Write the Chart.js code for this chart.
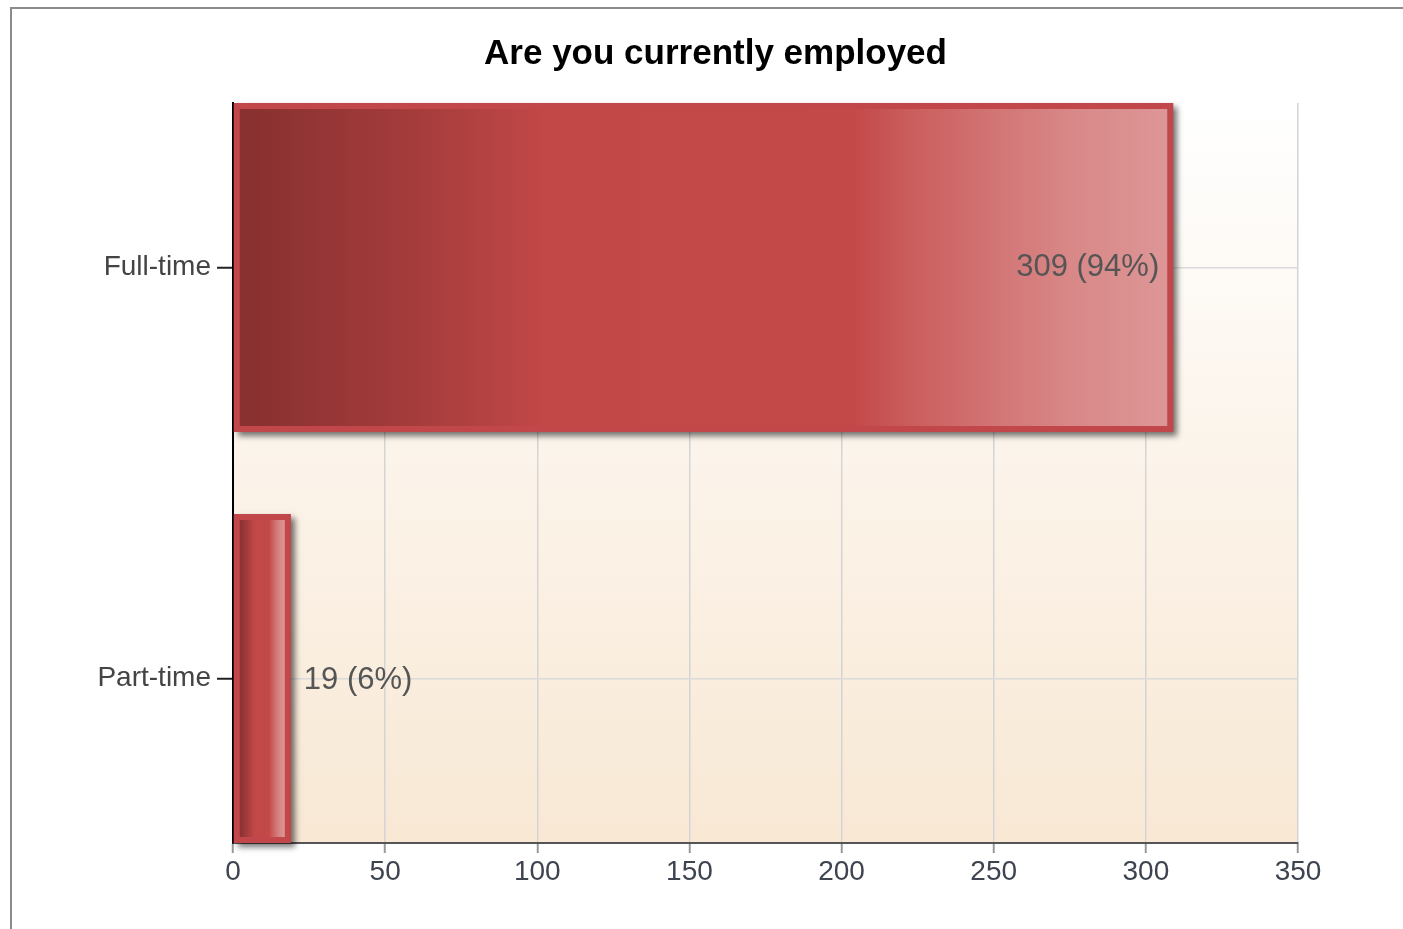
<!DOCTYPE html>
<html>
<head>
<meta charset="utf-8">
<title>Are you currently employed</title>
<script src="https://cdn.jsdelivr.net/npm/chart.js@4.4.1/dist/chart.umd.min.js"></script>
<style>
    html, body { margin: 0; padding: 0; background: #fff; overflow: hidden; }
    #frame { position: absolute; left: 10px; top: 7px; width: 1420px; height: 960px; border: 2px solid #8b8b8b; }
    #wrap { position: absolute; left: 0; top: 0; width: 1403px; height: 929px; }
</style>
</head>
<body>
<div id="frame"></div>
<div id="wrap"><canvas id="chart"></canvas></div>
<script>
const categories = ['Full-time', 'Part-time'];
const counts = [309, 19];
const percents = [94, 6];
const xMin = 0, xMax = 350, xStep = 50;

const FONT = '"Liberation Sans", Arial, sans-serif';
const BORDER = 6;
const BORDER_COLOR = '#c1474a';

// horizontal shading used inside each bar, dark on the left, pale on the right
const shade = [
    [0, '#87302f'], [0.1, '#973636'], [0.2, '#a73d3d'], [0.33, '#c24747'],
    [0.66, '#c34848'], [0.72, '#ca5c5c'], [0.82, '#d37676'], [0.9, '#d98888'], [1, '#dd9696']
];

function barFill(context) {
    if (context.type !== 'data' || !context.parsed) return '#c34848';
    const xs = context.chart.scales.x;
    const x0 = xs.getPixelForValue(0) + BORDER;
    const x1 = xs.getPixelForValue(context.parsed.x) - BORDER;
    if (!isFinite(x0) || !isFinite(x1) || x1 <= x0) return '#c34848';
    const g = context.chart.ctx.createLinearGradient(x0, 0, x1, 0);
    shade.forEach(([p, c]) => g.addColorStop(p, c));
    return g;
}

const plotBackground = {
    id: 'plotBackground',
    beforeDraw(chart) {
        const { ctx, chartArea: a } = chart;
        const g = ctx.createLinearGradient(0, a.top, 0, a.bottom);
        g.addColorStop(0, '#ffffff');
        g.addColorStop(1, '#f8e8d4');
        ctx.save();
        ctx.fillStyle = g;
        ctx.fillRect(a.left, a.top, a.width, a.height);
        ctx.restore();
    }
};

const barShadow = {
    id: 'barShadow',
    beforeDatasetsDraw(chart) {
        const ctx = chart.ctx;
        chart.getDatasetMeta(0).data.forEach(bar => {
            const { x, y, base, height } = bar.getProps(['x', 'y', 'base', 'height'], true);
            ctx.save();
            ctx.shadowColor = 'rgba(0,0,0,0.55)';
            ctx.shadowBlur = 6;
            ctx.shadowOffsetX = 4;
            ctx.shadowOffsetY = 4;
            ctx.fillStyle = BORDER_COLOR;
            ctx.fillRect(base, y - height / 2, x - base, height);
            ctx.restore();
        });
    }
};

const valueLabels = {
    id: 'valueLabels',
    afterDatasetsDraw(chart) {
        const ctx = chart.ctx;
        ctx.save();
        ctx.font = `31px ${FONT}`;
        ctx.fillStyle = '#555555';
        ctx.textBaseline = 'middle';
        chart.getDatasetMeta(0).data.forEach((bar, i) => {
            const text = `${counts[i]} (${percents[i]}%)`;
            const w = ctx.measureText(text).width;
            const { x, y, base } = bar.getProps(['x', 'y', 'base'], true);
            if (x - base > w + 40) {
                ctx.textAlign = 'right';
                ctx.fillText(text, x - 14, y);
            } else {
                ctx.textAlign = 'left';
                ctx.fillText(text, x + 13, y + 2);
            }
        });
        ctx.restore();
    }
};

new Chart(document.getElementById('chart'), {
    type: 'bar',
    data: {
        datasets: [{
            label: 'Responses',
            data: counts.map((v, i) => ({ x: v, y: i })),
            backgroundColor: barFill,
            borderColor: BORDER_COLOR,
            borderWidth: BORDER,
            borderSkipped: false,
            categoryPercentage: 1,
            barPercentage: 0.8
        }]
    },
    options: {
        indexAxis: 'y',
        responsive: true,
        maintainAspectRatio: false,
        animation: false,
        layout: { padding: { left: 90, right: 62, top: 0, bottom: 0 } },
        plugins: {
            legend: { display: false },
            tooltip: { enabled: false },
            title: {
                display: true,
                text: 'Are you currently employed',
                color: '#000',
                font: { family: FONT, size: 35, weight: 'bold' },
                padding: { top: 33, bottom: 28 }
            }
        },
        scales: {
            x: {
                type: 'linear',
                min: xMin,
                max: xMax,
                ticks: { stepSize: xStep, color: '#3d4450', font: { family: FONT, size: 28 }, padding: 2 },
                grid: { color: '#d4d4d4', lineWidth: 1.5, tickLength: 10, tickColor: '#999', tickWidth: 2 },
                border: { color: '#555', width: 2 },
                afterFit(scale) { scale.height = 86; }
            },
            y: {
                type: 'linear',
                reverse: true,
                offset: false,
                bounds: 'data',
                min: -0.4,
                max: categories.length - 0.6,
                afterBuildTicks(scale) { scale.ticks = categories.map((_, i) => ({ value: i })); },
                ticks: { callback: v => categories[v], color: '#444', font: { family: FONT, size: 28 }, padding: 6 },
                grid: { offset: false, color: '#dadada', lineWidth: 1.5, tickLength: 16, tickColor: '#222', tickWidth: 2 },
                border: { color: '#000', width: 2 },
                afterFit(scale) { scale.width = 143; }
            },
            // empty strip on the right so the title sits centred on the whole frame
            gutter: {
                type: 'linear',
                position: 'right',
                display: true,
                ticks: { display: false },
                grid: { display: false, drawTicks: false },
                border: { display: false },
                afterFit(scale) { scale.width = 43; }
            }
        }
    },
    plugins: [plotBackground, barShadow, valueLabels]
});
</script>
</body>
</html>
